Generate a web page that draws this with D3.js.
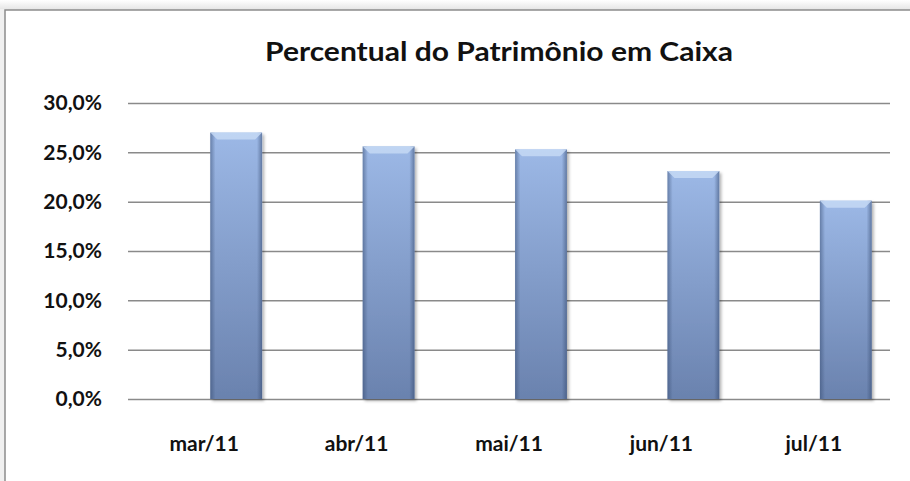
<!DOCTYPE html>
<html><head><meta charset="utf-8">
<script src="https://cdn.jsdelivr.net/npm/d3@7"></script>
<style>body{margin:0;background:#f2f2f2;}svg{display:block;}</style>
</head><body>
<script>
const categories = ["mar/11","abr/11","mai/11","jun/11","jul/11"];
const values = [27.0, 25.6, 25.3, 23.1, 20.1];
const yTicks = [0,5,10,15,20,25,30];
const title = "Percentual do Patrimônio em Caixa";

const W=910,H=481;
const FONT="Lato, 'Open Sans', sans-serif";
const svg=d3.select("body").append("svg").attr("width",W).attr("height",H);
const defs=svg.append("defs");
const bg=defs.append("linearGradient").attr("id","bgg").attr("x1",0).attr("y1",0).attr("x2",0).attr("y2",1);
bg.append("stop").attr("offset",0).attr("stop-color","#ffffff");
bg.append("stop").attr("offset",1).attr("stop-color","#e4e4e4");
svg.append("rect").attr("width",W).attr("height",10).attr("fill","url(#bgg)");
svg.append("rect").attr("y",9).attr("width",5).attr("height",H).attr("fill","#f0f0f0");
svg.append("rect").attr("x",5).attr("y",10).attr("width",W).attr("height",H).attr("fill","#fff")
  .attr("stroke","#8c8c8c").attr("stroke-width",1.5);

const g1=defs.append("linearGradient").attr("id","barv").attr("x1",0).attr("y1",0).attr("x2",0).attr("y2",1);
g1.append("stop").attr("offset",0).attr("stop-color","#9cb8e6");
g1.append("stop").attr("offset",1).attr("stop-color","#6a82ae");
const g2=defs.append("linearGradient").attr("id","barh").attr("x1",0).attr("y1",0).attr("x2",1).attr("y2",0);
g2.append("stop").attr("offset",0).attr("stop-color","#34496e").attr("stop-opacity",0.5);
g2.append("stop").attr("offset",0.1).attr("stop-color","#34496e").attr("stop-opacity",0);
g2.append("stop").attr("offset",0.9).attr("stop-color","#34496e").attr("stop-opacity",0);
g2.append("stop").attr("offset",1).attr("stop-color","#34496e").attr("stop-opacity",0.55);
const f=defs.append("filter").attr("id","sh").attr("x","-20%").attr("y","-5%").attr("width","150%").attr("height","115%");
f.append("feDropShadow").attr("dx",2).attr("dy",2).attr("stdDeviation",1.5).attr("flood-color","#000").attr("flood-opacity",0.3);

const x=d3.scaleBand().domain(categories).range([128,890]).paddingInner(0.66).paddingOuter(0.33);
const y=d3.scaleLinear().domain([0,30]).range([399,103]);
const depth=32;

svg.append("text").attr("x",499).attr("y",61).attr("text-anchor","middle")
  .attr("font-family",FONT).attr("font-weight","bold").attr("font-size",26)
  .attr("textLength",468).attr("lengthAdjust","spacingAndGlyphs")
  .attr("fill","#111").text(title);

const yAxis=svg.append("g").attr("transform","translate(128,0)")
  .call(d3.axisLeft(y).tickValues(yTicks).tickSize(-762).tickFormat(d=>d.toFixed(1).replace(".",",")+"%"));
yAxis.select(".domain").remove();
yAxis.selectAll("line").attr("stroke","#8a8a8a").attr("stroke-width",1.5);
yAxis.selectAll("text").attr("x",-26).attr("font-family",FONT).attr("font-weight","bold")
  .attr("font-size",21).attr("fill","#111");

const xAxis=svg.append("g").attr("transform","translate(0,399)")
  .call(d3.axisBottom(x).tickSize(0).tickPadding(0));
xAxis.select(".domain").remove();
xAxis.selectAll("text").attr("dy",null).attr("y",52).attr("font-family",FONT).attr("font-weight","bold")
  .attr("font-size",21).attr("fill","#111");

const bars=svg.append("g").selectAll("g").data(values).join("g");
bars.append("rect").attr("x",(d,i)=>x(categories[i])+depth).attr("y",d=>y(d)).attr("width",x.bandwidth())
  .attr("height",d=>y(0)-y(d)).attr("fill","url(#barv)").attr("filter","url(#sh)");
bars.append("rect").attr("x",(d,i)=>x(categories[i])+depth).attr("y",d=>y(d)).attr("width",x.bandwidth())
  .attr("height",d=>y(0)-y(d)).attr("fill","url(#barh)");
bars.append("path").attr("d",(d,i)=>{const x0=x(categories[i])+depth,w=x.bandwidth(),t=y(d);
  return `M${x0},${t}L${x0+w},${t}L${x0+w-7},${t+7}L${x0+7},${t+7}Z`;}).attr("fill","#c6d9f5").attr("opacity",0.85);
</script>
</body></html>
